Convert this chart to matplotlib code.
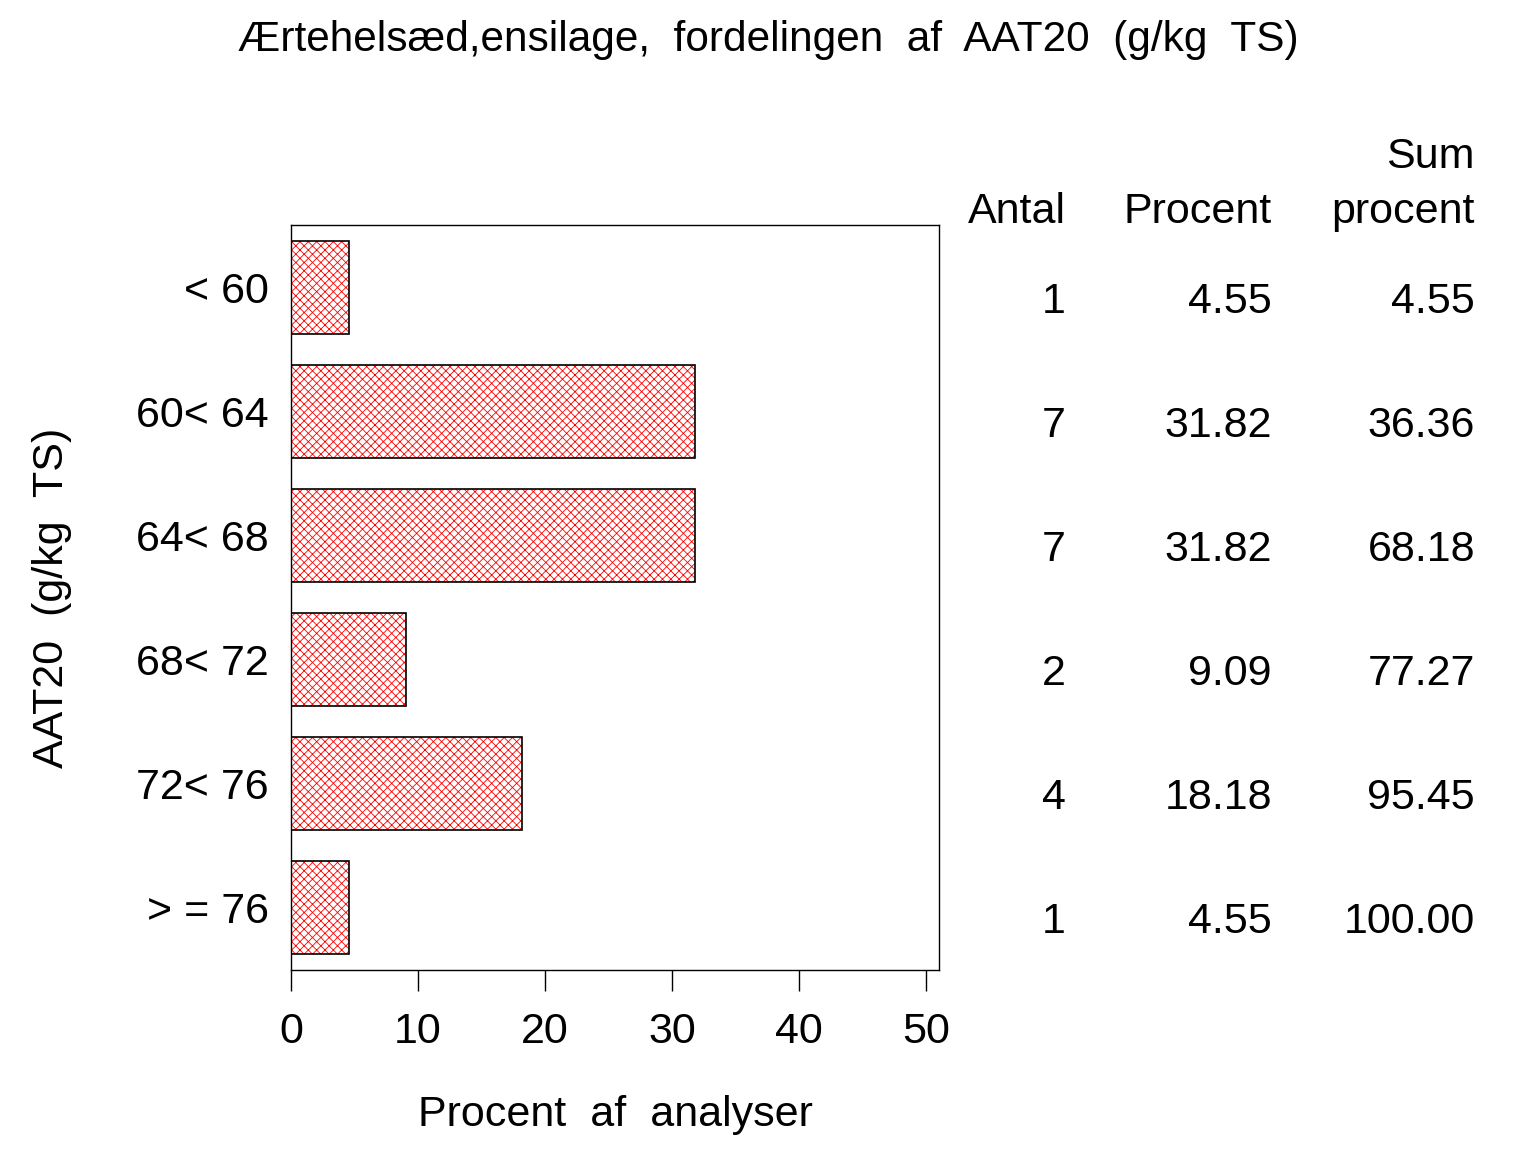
import numpy as np
import matplotlib.pyplot as plt

plt.rcParams['font.family'] = ['Liberation Sans', 'DejaVu Sans']
plt.rcParams['hatch.linewidth'] = 0.6

# data
categories = ['<60', '60<64', '64<68', '68<72', '72<76', '>=76']
cat_labels = ['< 60', '60< 64', '64< 68', '68< 72', '72< 76', '> = 76']
antal = [1, 7, 7, 2, 4, 1]
procent = [4.55, 31.82, 31.82, 9.09, 18.18, 4.55]
sum_procent = [4.55, 36.36, 68.18, 77.27, 95.45, 100.00]
xticks = [0, 10, 20, 30, 40, 50]

W, H = 1536, 1152
fig = plt.figure(figsize=(W / 100, H / 100), dpi=100)
ax = fig.add_axes([291 / W, 1 - 970 / H, (939 - 291) / W, (970 - 225) / H])

y = np.arange(len(categories))
# red hatch first, black outline on top
ax.barh(y, procent, height=0.75, color='white', edgecolor='red',
        linewidth=0, hatch='xxxx')
ax.barh(y, procent, height=0.75, fill=False, edgecolor='black', linewidth=1.2)
ax.set_ylim(len(categories) - 0.5, -0.5)
ax.set_xlim(0, 51)
ax.set_yticks(y)
ax.set_yticklabels(cat_labels, fontsize=31)
ax.tick_params(axis='y', length=0, pad=16)
ax.set_xticks(xticks)
ax.set_xticklabels([str(t) for t in xticks], fontsize=31)
ax.tick_params(axis='x', length=15, width=1, pad=15, direction='out')
for s in ax.spines.values():
    s.set_linewidth(1)

ax.set_xlabel('Procent  af  analyser', fontsize=31, labelpad=31)
ax.set_ylabel('AAT20  (g/kg  TS)', fontsize=31, labelpad=46)

fig.text(0.5, 1 - 40 / H, 'Ærtehelsæd,ensilage,  fordelingen  af  AAT20  (g/kg  TS)',
         fontsize=30.5, ha='center', va='center')

# table to the right
col_x = [1066, 1272, 1475]
hdr_y = 212
fig.text(col_x[0] / W, 1 - hdr_y / H, 'Antal', fontsize=31, ha='right', va='center')
fig.text(col_x[1] / W, 1 - hdr_y / H, 'Procent', fontsize=31, ha='right', va='center')
fig.text(col_x[2] / W, 1 - hdr_y / H, 'procent', fontsize=31, ha='right', va='center')
fig.text(col_x[2] / W, 1 - 157 / H, 'Sum', fontsize=31, ha='right', va='center')

for i in range(len(categories)):
    yy = 1 - (302 + 124 * i) / H
    fig.text(col_x[0] / W, yy, str(antal[i]), fontsize=31, ha='right', va='center')
    fig.text(col_x[1] / W, yy, '%.2f' % procent[i], fontsize=31, ha='right', va='center')
    fig.text(col_x[2] / W, yy, '%.2f' % sum_procent[i], fontsize=31, ha='right', va='center')

fig.savefig('out.png', dpi=100)
